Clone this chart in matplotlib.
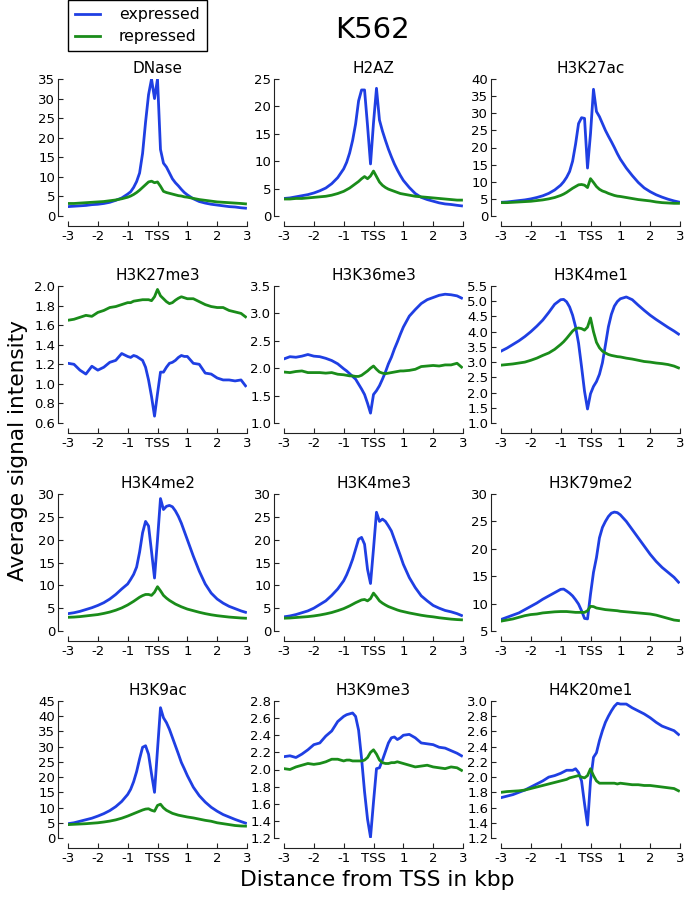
import matplotlib
matplotlib.use("Agg")
import matplotlib.pyplot as plt

# bin centres in kbp relative to the TSS
X = [-3.0, -2.8, -2.6, -2.4, -2.2, -2.0, -1.8, -1.6, -1.4, -1.2,
     -1.0, -0.9, -0.8, -0.7, -0.6, -0.5, -0.4, -0.3, -0.2, -0.1,
     0.0, 0.1, 0.2, 0.3, 0.4, 0.5, 0.6, 0.7, 0.8, 0.9,
     1.0, 1.2, 1.4, 1.6, 1.8, 2.0, 2.2, 2.4, 2.6, 2.8, 2.95]

XTICKS = [-3, -2, -1, 0, 1, 2, 3]
XTICKLABELS = ["-3", "-2", "-1", "TSS", "1", "2", "3"]

dnase_expr = [2.4, 2.5, 2.6, 2.7, 2.9, 3.0, 3.2, 3.5, 4.0, 4.6,
              5.6, 6.2, 7.3, 8.8, 11.0, 16.0, 24.0, 31.0, 35.0, 30.0,
              35.0, 17.0, 13.5, 12.5, 11.0, 9.5, 8.5, 7.7, 6.8, 6.0,
              5.4, 4.4, 3.7, 3.3, 3.0, 2.8, 2.6, 2.4, 2.3, 2.1, 2.0]
dnase_repr = [3.2, 3.2, 3.3, 3.4, 3.5, 3.6, 3.7, 3.9, 4.1, 4.4,
              4.8, 5.1, 5.5, 6.0, 6.6, 7.3, 8.0, 8.7, 8.9, 8.5,
              8.7, 7.6, 6.3, 6.0, 5.8, 5.6, 5.4, 5.2, 5.1, 4.9,
              4.8, 4.5, 4.2, 4.0, 3.8, 3.6, 3.5, 3.4, 3.3, 3.2, 3.1]

h2az_expr = [3.2, 3.3, 3.5, 3.7, 3.9, 4.2, 4.6, 5.1, 5.9, 7.0,
             8.6, 9.8, 11.5, 13.8, 16.8, 21.0, 23.0, 23.0, 16.5, 9.5,
             17.0, 23.3, 17.5, 15.5, 13.8, 12.2, 10.8, 9.5, 8.4, 7.4,
             6.5, 5.2, 4.1, 3.4, 3.0, 2.7, 2.4, 2.2, 2.1, 1.95, 1.85]
h2az_repr = [3.1, 3.1, 3.2, 3.2, 3.3, 3.4, 3.5, 3.6, 3.8, 4.1,
             4.5, 4.8, 5.1, 5.5, 5.9, 6.3, 6.8, 7.2, 6.8, 7.3,
             8.2, 7.2, 6.2, 5.6, 5.2, 4.9, 4.7, 4.5, 4.3, 4.1,
             4.0, 3.8, 3.6, 3.5, 3.4, 3.3, 3.2, 3.1, 3.0, 2.9, 2.9]

h3k27ac_expr = [4.0, 4.1, 4.3, 4.5, 4.7, 5.0, 5.4, 5.9, 6.6, 7.6,
                9.0, 10.0, 11.3, 13.0, 16.0, 21.0, 27.0, 28.7, 28.5, 14.0,
                24.0, 37.0, 30.5, 29.0, 27.0, 25.0, 23.3, 21.7, 20.0, 18.2,
                16.6, 14.0, 11.8, 9.8, 8.2, 7.1, 6.2, 5.5, 4.9, 4.4, 4.1]
h3k27ac_repr = [3.9, 3.9, 4.0, 4.1, 4.2, 4.3, 4.5, 4.7, 5.0, 5.4,
                6.0, 6.4, 6.9, 7.5, 8.1, 8.6, 9.1, 9.2, 9.0, 8.3,
                10.9, 9.8, 8.6, 7.8, 7.3, 7.0, 6.6, 6.3, 6.0, 5.8,
                5.7, 5.4, 5.1, 4.8, 4.6, 4.4, 4.1, 3.9, 3.8, 3.7, 3.7]

h3k27me3_expr = [1.21, 1.20, 1.14, 1.10, 1.18, 1.14, 1.17, 1.22, 1.24, 1.31,
                 1.28, 1.27, 1.29, 1.28, 1.26, 1.24, 1.17, 1.04, 0.87, 0.67,
                 0.90, 1.12, 1.12, 1.17, 1.21, 1.22, 1.24, 1.27, 1.29, 1.28,
                 1.28, 1.21, 1.20, 1.11, 1.10, 1.06, 1.04, 1.04, 1.03, 1.04, 0.98]
h3k27me3_repr = [1.65, 1.66, 1.68, 1.70, 1.69, 1.73, 1.75, 1.78, 1.79, 1.81,
                 1.83, 1.83, 1.845, 1.85, 1.855, 1.86, 1.86, 1.86, 1.85, 1.89,
                 1.965, 1.90, 1.87, 1.84, 1.82, 1.83, 1.855, 1.875, 1.89, 1.88,
                 1.87, 1.87, 1.84, 1.81, 1.79, 1.78, 1.78, 1.75, 1.735, 1.72, 1.685]

h3k36me3_expr = [2.17, 2.21, 2.20, 2.22, 2.25, 2.22, 2.21, 2.18, 2.14, 2.08,
                 1.99, 1.95, 1.90, 1.85, 1.80, 1.71, 1.62, 1.52, 1.36, 1.18,
                 1.52, 1.59, 1.68, 1.80, 1.93, 2.08, 2.20, 2.35, 2.48, 2.62,
                 2.75, 2.95, 3.07, 3.18, 3.25, 3.29, 3.33, 3.35, 3.34, 3.32, 3.28]
h3k36me3_repr = [1.93, 1.92, 1.94, 1.95, 1.92, 1.92, 1.92, 1.91, 1.92, 1.89,
                 1.88, 1.87, 1.86, 1.86, 1.85, 1.85, 1.87, 1.91, 1.95, 2.00,
                 2.04, 1.98, 1.93, 1.91, 1.90, 1.91, 1.92, 1.93, 1.94, 1.95,
                 1.95, 1.96, 1.98, 2.03, 2.04, 2.05, 2.04, 2.06, 2.06, 2.09, 2.02]

h3k4me1_expr = [3.36, 3.46, 3.58, 3.70, 3.84, 4.00, 4.18, 4.38, 4.63, 4.90,
                5.05, 5.06, 4.98, 4.81, 4.54, 4.16, 3.62, 2.85, 2.04, 1.46,
                1.96, 2.20, 2.36, 2.60, 2.98, 3.56, 4.16, 4.57, 4.84, 4.99,
                5.08, 5.14, 5.05, 4.87, 4.70, 4.54, 4.40, 4.27, 4.14, 4.02, 3.92]
h3k4me1_repr = [2.90, 2.92, 2.94, 2.97, 3.00, 3.06, 3.13, 3.22, 3.30, 3.42,
                3.58, 3.67, 3.78, 3.90, 4.02, 4.10, 4.12, 4.10, 4.05, 4.15,
                4.45, 4.00, 3.65, 3.47, 3.36, 3.30, 3.25, 3.22, 3.20, 3.18,
                3.17, 3.13, 3.10, 3.06, 3.02, 3.00, 2.97, 2.95, 2.92, 2.87, 2.81]

h3k4me2_expr = [3.8, 4.0, 4.3, 4.7, 5.1, 5.6, 6.2, 7.0, 8.0, 9.2,
                10.3, 11.3, 12.4, 14.0, 17.3, 21.5, 24.0, 23.0, 17.4, 11.6,
                20.0, 29.0, 26.6, 27.3, 27.5, 27.2, 26.3, 25.1, 23.6, 21.8,
                20.0, 16.4, 13.1, 10.3, 8.3, 7.0, 6.1, 5.4, 4.9, 4.4, 4.1]
h3k4me2_repr = [3.0, 3.05, 3.15, 3.3, 3.45, 3.6, 3.85, 4.15, 4.55, 5.05,
                5.7, 6.1, 6.5, 6.95, 7.4, 7.75, 8.0, 8.0, 7.8, 8.5,
                9.7, 8.8, 7.8, 7.2, 6.7, 6.3, 5.9, 5.6, 5.3, 5.05,
                4.8, 4.45, 4.1, 3.8, 3.55, 3.35, 3.2, 3.05, 2.95, 2.85, 2.8]

h3k4me3_expr = [3.1, 3.3, 3.6, 4.0, 4.4, 5.0, 5.8, 6.6, 7.8, 9.2,
                11.0, 12.3, 13.9, 15.7, 17.9, 20.1, 20.5, 19.0, 13.5, 10.4,
                18.0, 26.0, 24.0, 24.5, 24.0, 23.0, 21.9, 20.1, 18.3, 16.5,
                14.6, 11.7, 9.5, 7.7, 6.6, 5.6, 5.0, 4.5, 4.2, 3.8, 3.4]
h3k4me3_repr = [2.8, 2.85, 2.95, 3.05, 3.15, 3.3, 3.5, 3.75, 4.05, 4.45,
                4.9, 5.2, 5.5, 5.85, 6.2, 6.5, 6.8, 6.9, 6.6, 7.1,
                8.3, 7.5, 6.6, 6.1, 5.7, 5.35, 5.1, 4.85, 4.6, 4.4,
                4.25, 3.95, 3.7, 3.45, 3.25, 3.1, 2.9, 2.75, 2.6, 2.5, 2.45]

h3k79me2_expr = [7.1, 7.5, 7.9, 8.3, 8.9, 9.5, 10.1, 10.8, 11.4, 12.0,
                 12.6, 12.65, 12.3, 11.9, 11.4, 10.7, 9.9, 8.7, 7.3, 7.2,
                 11.7, 15.7, 18.4, 22.0, 23.9, 25.0, 25.9, 26.5, 26.7, 26.6,
                 26.2, 25.0, 23.5, 22.0, 20.5, 19.0, 17.7, 16.6, 15.7, 14.8, 13.9]
h3k79me2_repr = [6.8, 7.0, 7.2, 7.5, 7.8, 8.0, 8.1, 8.3, 8.4, 8.5,
                 8.55, 8.55, 8.55, 8.5, 8.45, 8.4, 8.4, 8.4, 8.4, 8.7,
                 9.5, 9.45, 9.2, 9.1, 9.0, 8.9, 8.85, 8.8, 8.75, 8.7,
                 8.6, 8.5, 8.4, 8.3, 8.2, 8.1, 7.9, 7.6, 7.3, 7.0, 6.9]

h3k9ac_expr = [4.7, 5.0, 5.5, 6.0, 6.5, 7.2, 8.0, 9.0, 10.3, 12.0,
               14.3, 16.0, 18.5, 21.8, 26.0, 29.8, 30.3, 27.5, 21.0, 15.0,
               29.0, 42.8, 39.5, 37.9, 35.7, 33.0, 30.3, 27.6, 24.8, 22.7,
               20.5, 16.7, 13.9, 11.8, 10.1, 8.8, 7.7, 6.9, 6.1, 5.4, 4.9]
h3k9ac_repr = [4.4, 4.5, 4.6, 4.7, 4.85, 5.0, 5.25, 5.55, 5.95, 6.5,
               7.2, 7.6, 8.0, 8.4, 8.8, 9.2, 9.5, 9.6, 9.1, 8.8,
               10.7, 11.1, 9.9, 9.1, 8.6, 8.1, 7.8, 7.5, 7.3, 7.1,
               6.9, 6.6, 6.2, 5.8, 5.5, 5.0, 4.7, 4.4, 4.1, 3.95, 3.9]

h3k9me3_expr = [2.15, 2.16, 2.14, 2.18, 2.23, 2.29, 2.31, 2.39, 2.45, 2.56,
                2.62, 2.64, 2.65, 2.66, 2.62, 2.46, 2.13, 1.74, 1.42, 1.21,
                1.62, 2.01, 2.02, 2.11, 2.21, 2.31, 2.37, 2.38, 2.35, 2.37,
                2.40, 2.41, 2.37, 2.31, 2.30, 2.29, 2.26, 2.25, 2.22, 2.19, 2.16]
h3k9me3_repr = [2.01, 2.00, 2.03, 2.05, 2.07, 2.06, 2.07, 2.09, 2.12, 2.12,
                2.10, 2.11, 2.11, 2.10, 2.10, 2.10, 2.10, 2.11, 2.14, 2.20,
                2.23, 2.18, 2.11, 2.08, 2.07, 2.07, 2.08, 2.08, 2.09, 2.08,
                2.07, 2.05, 2.03, 2.04, 2.05, 2.03, 2.02, 2.01, 2.03, 2.02, 1.99]

h4k20me1_expr = [1.73, 1.75, 1.77, 1.80, 1.83, 1.87, 1.91, 1.95, 2.00, 2.02,
                 2.05, 2.07, 2.09, 2.09, 2.09, 2.11, 2.06, 1.95, 1.65, 1.37,
                 1.95, 2.26, 2.32, 2.48, 2.61, 2.72, 2.80, 2.87, 2.93, 2.97,
                 2.96, 2.96, 2.91, 2.87, 2.83, 2.78, 2.72, 2.67, 2.64, 2.61, 2.56]
h4k20me1_repr = [1.80, 1.81, 1.815, 1.82, 1.83, 1.85, 1.87, 1.89, 1.91, 1.93,
                 1.95, 1.96, 1.97, 1.99, 2.00, 2.01, 2.02, 2.00, 1.99, 2.02,
                 2.11, 2.02, 1.95, 1.92, 1.92, 1.92, 1.92, 1.92, 1.92, 1.91,
                 1.92, 1.91, 1.90, 1.90, 1.89, 1.89, 1.88, 1.87, 1.86, 1.85, 1.82]

# (title, expressed, repressed, ymin, ymax, ystep)
panels = [
    ("DNase", dnase_expr, dnase_repr, 0, 35, 5),
    ("H2AZ", h2az_expr, h2az_repr, 0, 25, 5),
    ("H3K27ac", h3k27ac_expr, h3k27ac_repr, 0, 40, 5),
    ("H3K27me3", h3k27me3_expr, h3k27me3_repr, 0.6, 2.0, 0.2),
    ("H3K36me3", h3k36me3_expr, h3k36me3_repr, 1.0, 3.5, 0.5),
    ("H3K4me1", h3k4me1_expr, h3k4me1_repr, 1.0, 5.5, 0.5),
    ("H3K4me2", h3k4me2_expr, h3k4me2_repr, 0, 30, 5),
    ("H3K4me3", h3k4me3_expr, h3k4me3_repr, 0, 30, 5),
    ("H3K79me2", h3k79me2_expr, h3k79me2_repr, 5, 30, 5),
    ("H3K9ac", h3k9ac_expr, h3k9ac_repr, 0, 45, 5),
    ("H3K9me3", h3k9me3_expr, h3k9me3_repr, 1.2, 2.8, 0.2),
    ("H4K20me1", h4k20me1_expr, h4k20me1_repr, 1.2, 3.0, 0.2),
]

BLUE = "#1f3fe3"
GREEN = "#1a8c1a"
W, H = 685, 898

col_left = [68, 284, 501]          # pixel x where the data range starts
row_bottom = [216, 423, 631, 838]  # pixel y of the data range bottom
ax_w, ax_h = 179, 137

fig = plt.figure(figsize=(W / 100, H / 100), dpi=100)

handles = None
for k, (name, expr, repr_, ymin, ymax, ystep) in enumerate(panels):
    r, c = divmod(k, 3)
    ax = fig.add_axes([col_left[c] / W, 1 - row_bottom[r] / H, ax_w / W, ax_h / H])
    l1, = ax.plot(X, expr, color=BLUE, lw=2.0)
    l2, = ax.plot(X, repr_, color=GREEN, lw=2.0)
    handles = [l1, l2]

    ax.set_xlim(-3, 3)
    ax.set_ylim(ymin, ymax)
    n = int(round((ymax - ymin) / ystep))
    yt = [ymin + i * ystep for i in range(n + 1)]
    ax.set_yticks(yt)
    if ystep < 1:
        ax.set_yticklabels(["%.1f" % v for v in yt])
    else:
        ax.set_yticklabels(["%d" % v for v in yt])
    ax.set_xticks(XTICKS)
    ax.set_xticklabels(XTICKLABELS)

    for s in ["top", "right"]:
        ax.spines[s].set_visible(False)
    for s in ["left", "bottom"]:
        ax.spines[s].set_position(("outward", 7.2))
        ax.spines[s].set_linewidth(0.8)
        ax.spines[s].set_color("#222222")
    ax.tick_params(direction="in", length=3.5, width=0.8, labelsize=9.5,
                   top=False, right=False, colors="#222222", labelcolor="black")
    ax.tick_params(axis="y", pad=2)
    ax.tick_params(axis="x", pad=3)
    ax.set_title(name, fontsize=11, pad=4)

fig.legend(handles, ["expressed", "repressed"], loc="upper left",
           bbox_to_anchor=(68 / W, 1.0), bbox_transform=fig.transFigure,
           fancybox=False, edgecolor="black", framealpha=1, fontsize=11.3,
           borderaxespad=0, handlelength=1.6, handletextpad=1.2,
           borderpad=0.45, labelspacing=0.45)

fig.text(372 / W, 1 - 30 / H, "K562", ha="center", va="center", fontsize=21)
fig.text(18 / W, 1 - 451 / H, "Average signal intensity", rotation=90,
         ha="center", va="center", fontsize=15.6)
fig.text(377 / W, 1 - 880 / H, "Distance from TSS in kbp",
         ha="center", va="center", fontsize=15.7)

fig.savefig("out.png", dpi=100)
